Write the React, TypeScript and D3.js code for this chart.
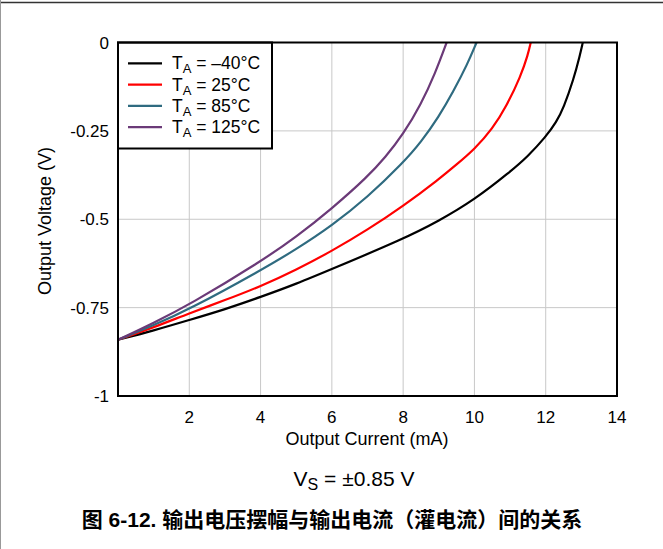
import React from "react";
import * as d3 from "d3";

const xTicks = [2, 4, 6, 8, 10, 12, 14];
const yTicks = [0, -0.25, -0.5, -0.75, -1];
const yTickLabels = ["0", "-0.25", "-0.5", "-0.75", "-1"];

const seriesNames = ["–40°C", "25°C", "85°C", "125°C"];
const seriesColors = ["#000000", "#ff0000", "#2f6b80", "#6b3a78"];

const blackX = [0, 1, 2, 3, 4, 5, 6, 8, 9, 10, 11, 11.5, 12, 12.3, 12.5, 12.78, 12.96, 13.04];
const blackY = [-0.841, -0.815, -0.785, -0.755, -0.72, -0.683, -0.641, -0.556, -0.505, -0.445, -0.366, -0.322, -0.267, -0.225, -0.185, -0.105, -0.036, 0];
const redX = [0, 1, 2, 3, 4, 5, 6, 7, 8, 9, 9.5, 10, 10.5, 10.9, 11.3, 11.5, 11.58];
const redY = [-0.841, -0.806, -0.766, -0.729, -0.69, -0.643, -0.59, -0.53, -0.463, -0.387, -0.345, -0.302, -0.245, -0.18, -0.095, -0.035, 0];
const tealX = [0, 1, 2, 4, 5, 6, 7, 8, 8.5, 9, 9.4, 9.8, 10.06];
const tealY = [-0.841, -0.8, -0.755, -0.645, -0.585, -0.518, -0.438, -0.34, -0.282, -0.21, -0.14, -0.062, 0];
const purpleX = [0, 1, 2, 4, 5, 6, 7, 7.5, 8, 8.5, 8.9, 9.22];
const purpleY = [-0.841, -0.793, -0.742, -0.62, -0.55, -0.47, -0.38, -0.325, -0.26, -0.175, -0.087, 0];

const seriesX = [blackX, redX, tealX, purpleX];
const seriesY = [blackY, redY, tealY, purpleY];

const W = 663;
const H = 549;
const left = 118;
const right = 617;
const top = 42.5;
const bottom = 396;

export default function App() {
  const x = d3.scaleLinear().domain([0, 14]).range([left, right]);
  const y = d3.scaleLinear().domain([-1, 0]).range([bottom, top]);
  const line = d3
    .line<[number, number]>()
    .x((d) => x(d[0]))
    .y((d) => y(d[1]))
    .curve(d3.curveBasis);

  const font = "Liberation Sans, Arial, sans-serif";

  return (
    <svg
      width={W}
      height={H}
      style={{ position: "absolute", left: 0, top: 0, background: "#fff" }}
      fontFamily={font}
    >
      <line x1={0} y1={2.5} x2={663} y2={2.5} stroke="#333" strokeWidth={1.5} />
      <line x1={0.5} y1={0} x2={0.5} y2={549} stroke="#999" strokeWidth={1} />

      <defs>
        <clipPath id="clip">
          <rect x={left} y={top} width={right - left} height={bottom - top} />
        </clipPath>
      </defs>

      {/* grid */}
      {xTicks.slice(0, -1).map((t) => (
        <line key={"gx" + t} x1={x(t)} x2={x(t)} y1={top} y2={bottom} stroke="#c8c8c8" strokeWidth={1} />
      ))}
      {yTicks.slice(1, -1).map((t) => (
        <line key={"gy" + t} x1={left} x2={right} y1={y(t)} y2={y(t)} stroke="#c8c8c8" strokeWidth={1} />
      ))}

      {/* curves */}
      <g clipPath="url(#clip)">
        {seriesX.map((xs, i) => (
          <path
            key={"s" + i}
            d={line(xs.map((v, j) => [v, seriesY[i][j]] as [number, number])) || ""}
            fill="none"
            stroke={seriesColors[i]}
            strokeWidth={2.2}
            strokeLinejoin="round"
          />
        ))}
      </g>

      {/* legend */}
      <rect x={left} y={top} width={154} height={106} fill="#fff" stroke="#000" strokeWidth={2} />
      {seriesNames.map((n, i) => {
        const ly = 63.3 + i * 21.3;
        return (
          <g key={"l" + i}>
            <line x1={128} x2={162} y1={ly} y2={ly} stroke={seriesColors[i]} strokeWidth={2.2} />
            <text x={172} y={ly + 6} fontSize={17.5} fill="#000">
              T<tspan fontSize={13} dy={4}>A</tspan>
              <tspan dy={-4}>{" = " + n}</tspan>
            </text>
          </g>
        );
      })}

      {/* plot border */}
      <rect x={left} y={top} width={right - left} height={bottom - top} fill="none" stroke="#000" strokeWidth={2} />

      {/* ticks */}
      {yTicks.map((t, i) => (
        <text key={"yt" + t} x={109} y={y(t) + 6} fontSize={17} textAnchor="end" fill="#000">
          {yTickLabels[i]}
        </text>
      ))}
      {xTicks.map((t) => (
        <text key={"xt" + t} x={x(t)} y={423} fontSize={17} textAnchor="middle" fill="#000">
          {t}
        </text>
      ))}

      <text x={367} y={445} fontSize={18} textAnchor="middle" fill="#000">
        Output Current (mA)
      </text>
      <text
        transform={`translate(51,${221}) rotate(-90)`}
        fontSize={18}
        textAnchor="middle"
        fill="#000"
      >
        Output Voltage (V)
      </text>

      <text x={354} y={486} fontSize={21} textAnchor="middle" fill="#000">
        V<tspan fontSize={16} dy={4}>S</tspan>
        <tspan dy={-4}> = ±0.85 V</tspan>
      </text>

      <text
        x={332}
        y={527}
        fontSize={21}
        fontWeight="bold"
        textAnchor="middle"
        fill="#000"
        fontFamily="Liberation Sans, Arial, 'Noto Sans CJK SC', sans-serif"
      >
        图 6-12. 输出电压摆幅与输出电流（灌电流）间的关系
      </text>
    </svg>
  );
}
